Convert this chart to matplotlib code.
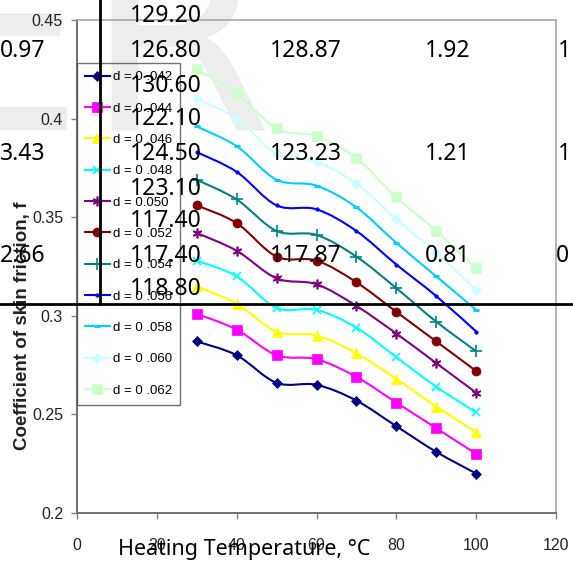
import matplotlib
matplotlib.use('Agg')
import matplotlib.pyplot as plt
from matplotlib.path import Path
from matplotlib.patches import PathPatch
from matplotlib.lines import Line2D

# heating temperature (deg C)
temps = [30, 40, 50, 60, 70, 80, 90, 100]

# coefficient of skin friction for each diameter d
f_042 = [0.287, 0.280, 0.266, 0.265, 0.257, 0.244, 0.231, 0.220]
f_044 = [0.301, 0.293, 0.280, 0.278, 0.269, 0.256, 0.243, 0.230]
f_046 = [0.315, 0.306, 0.292, 0.290, 0.281, 0.268, 0.254, 0.241]
f_048 = [0.328, 0.320, 0.304, 0.303, 0.294, 0.279, 0.264, 0.251]
f_050 = [0.342, 0.333, 0.319, 0.316, 0.305, 0.291, 0.276, 0.261]
f_052 = [0.356, 0.347, 0.330, 0.328, 0.317, 0.302, 0.287, 0.272]
f_054 = [0.369, 0.359, 0.343, 0.341, 0.330, 0.314, 0.297, 0.282]
f_056 = [0.383, 0.373, 0.356, 0.354, 0.343, 0.326, 0.310, 0.292]
f_058 = [0.396, 0.386, 0.369, 0.366, 0.355, 0.337, 0.320, 0.303]
f_060 = [0.410, 0.400, 0.382, 0.378, 0.367, 0.349, 0.332, 0.313]
f_062 = [0.425, 0.413, 0.395, 0.391, 0.380, 0.360, 0.343, 0.324]

series = [f_042, f_044, f_046, f_048, f_050, f_052, f_054, f_056, f_058, f_060, f_062]
labels = ['d = 0 .042', 'd = 0 .044', 'd = 0 .046', 'd = 0 .048', 'd = 0.050', 'd = 0 .052',
          'd = 0 .054', 'd = 0 .056', 'd = 0 .058', 'd = 0 .060', 'd = 0 .062']
colors = ['#000080', '#FF00FF', '#FFFF00', '#00FFFF', '#800080', '#800000',
          '#008080', '#0000FF', '#00CCFF', '#CCFFFF', '#CCFFCC']
markers = ['D', 's', '^', 'x', (6, 2, 0), 'o', '+', 'o', '_', 'D', 's']
msizes = [5.5, 6.5, 7, 6, 7, 6.5, 8, 2.5, 5, 5, 6.5]

yticks = [0.2, 0.25, 0.3, 0.35, 0.4, 0.45]
ytick_labels = ['0.2', '0.25', '0.3', '0.35', '0.4', '0.45']
xticks = [0, 20, 40, 60, 80, 100, 120]

# table text printed over the figure: (text, left px, baseline px)
table_text = [
    ('129.20', 130, 22),
    ('0.97', 0, 57), ('126.80', 130, 57), ('128.87', 270, 57), ('1.92', 425, 57), ('1', 558, 57),
    ('130.60', 130, 92),
    ('122.10', 130, 125),
    ('3.43', 0, 160), ('124.50', 130, 160), ('123.23', 270, 160), ('1.21', 425, 160), ('1', 558, 160),
    ('123.10', 130, 195),
    ('117.40', 130, 227),
    ('2.66', 0, 262), ('117.40', 130, 262), ('117.87', 270, 262), ('0.81', 425, 262), ('0', 556, 262),
    ('118.80', 130, 295),
]

W, H = 573, 572
fig = plt.figure(figsize=(W / 100, H / 100), dpi=100)


def fx(px):
    return px / W


def fy(py):
    return 1 - py / H


# faint watermark letters behind the chart
fig.text(fx(-88), fy(130), 'E', fontsize=195, color='#ededed', family='DejaVu Sans',
         va='baseline', ha='left', zorder=-5)
fig.text(fx(84), fy(130), 'R', fontsize=195, color='#ededed', family='DejaVu Sans',
         va='baseline', ha='left', zorder=-5)

ax = fig.add_axes([fx(77), fy(513), fx(556) - fx(77), fy(20) - fy(513)])
ax.patch.set_alpha(0)


def smooth_path(xs, ys):
    # Catmull-Rom style bezier through the points
    n = len(xs)
    verts = [(xs[0], ys[0])]
    codes = [Path.MOVETO]
    for i in range(n - 1):
        a = i - 1 if i > 0 else i
        b = i + 2 if i + 2 < n else i + 1
        c1 = (xs[i] + (xs[i + 1] - xs[a]) / 6, ys[i] + (ys[i + 1] - ys[a]) / 6)
        c2 = (xs[i + 1] - (xs[b] - xs[i]) / 6, ys[i + 1] - (ys[b] - ys[i]) / 6)
        verts += [c1, c2, (xs[i + 1], ys[i + 1])]
        codes += [Path.CURVE4] * 3
    return Path(verts, codes)


handles = []
for vals, lab, col, mk, ms in zip(series, labels, colors, markers, msizes):
    ax.add_patch(PathPatch(smooth_path(temps, vals), fill=False, edgecolor=col, lw=1.5, zorder=2))
    mew = 1.2 if mk in ('x', '+', (6, 2, 0)) else (2.2 if mk == '_' else 0.5)
    ax.plot(temps, vals, ls='none', marker=mk, ms=ms, color=col, mec=col, mew=mew, zorder=3)
    handles.append(Line2D([], [], color=col, lw=1.5, marker=mk, ms=ms, mec=col, mew=mew))

ax.set_xlim(0, 120)
ax.set_ylim(0.2, 0.45)
ax.set_xticks(xticks)
ax.set_xticklabels([str(t) for t in xticks])
ax.set_yticks(yticks)
ax.set_yticklabels(ytick_labels)

tick_font = ['Liberation Sans Narrow', 'Liberation Sans']
for lab in ax.get_xticklabels() + ax.get_yticklabels():
    lab.set_family(tick_font)
    lab.set_fontsize(11.5)
    lab.set_color('#222222')
ax.tick_params(axis='x', direction='out', length=4, width=1, color='#808080', pad=14)
ax.tick_params(axis='y', direction='out', length=4, width=1, color='#808080', pad=6)

for side in ('left', 'bottom'):
    ax.spines[side].set_color('#707070')
    ax.spines[side].set_linewidth(1.4)
for side in ('top', 'right'):
    ax.spines[side].set_color('#a8a8a8')
    ax.spines[side].set_linewidth(1.2)

ax.set_ylabel('Coefficient of skin friction, f', family='Liberation Sans', fontweight='bold',
              fontsize=13.5, color='#222222')
ax.yaxis.set_label_coords(-0.097, 0.38)

ax.set_xlabel('Heating Temperature, °C', family='Noto Sans', fontsize=15.5, color='black')
ax.xaxis.set_label_coords(0.35, -0.052)

leg = ax.legend(handles, labels, loc='upper left', bbox_to_anchor=(0, (513 - 63) / 493),
                borderaxespad=0, frameon=True, fancybox=False, edgecolor='#505050',
                facecolor='none', prop={'family': tick_font, 'size': 9.5},
                labelspacing=1.45, handlelength=1.9, handletextpad=0.2, borderpad=0.6)
leg.get_frame().set_linewidth(1.0)

# table numbers and grid lines on top of everything
for txt, x, y in table_text:
    fig.text(fx(x), fy(y), txt, fontsize=16.5, family='Noto Sans', color='black',
             ha='left', va='baseline', zorder=10)

fig.add_artist(Line2D([fx(100), fx(100)], [fy(0), fy(304)], color='black', lw=2, zorder=11))
fig.add_artist(Line2D([0, 1], [fy(304), fy(304)], color='black', lw=2, zorder=11))

fig.savefig('out.png', dpi=100)
